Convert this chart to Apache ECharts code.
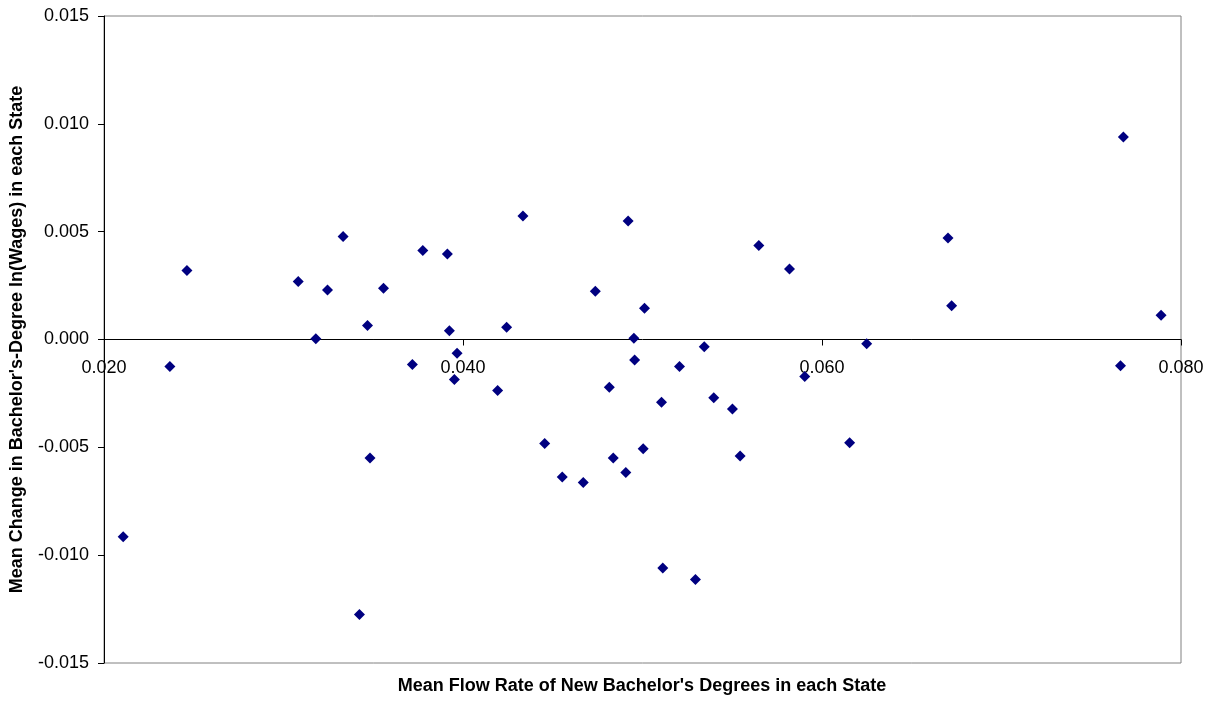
<!DOCTYPE html>
<html>
<head>
<meta charset="utf-8">
<script src="https://cdn.jsdelivr.net/npm/echarts@6/dist/echarts.min.js"></script>
<style>
html,body{margin:0;padding:0;background:#fff;}
#chart{width:1219px;height:709px;}
</style>
</head>
<body>
<div id="chart"></div>
<script>
// Mean flow rate of new bachelor's degrees (x) per state
const flowRate = [
  0.02107, 0.02367, 0.02462, 0.03082, 0.03180, 0.03245, 0.03332, 0.03468, 0.03482, 0.03423,
  0.03557, 0.03718, 0.03776, 0.03913, 0.03924, 0.03967, 0.03952, 0.04193, 0.04243, 0.04334,
  0.04455, 0.04553, 0.04670, 0.04737, 0.04920, 0.04815, 0.04837, 0.04907, 0.04952, 0.04956,
  0.05011, 0.05004, 0.05106, 0.05113, 0.05206, 0.05295, 0.05344, 0.05397, 0.05501, 0.05544,
  0.05648, 0.05819, 0.05904, 0.06154, 0.06249, 0.06702, 0.06722, 0.07679, 0.07663, 0.07889
];
// Mean change in bachelor's-degree ln(wages) (y) per state
const wageChange = [
  -0.00915, -0.00125, 0.00320, 0.00269, 0.00003, 0.00229, 0.00478, 0.00065, -0.00549, -0.01275,
  0.00238, -0.00116, 0.00413, 0.00397, 0.00040, -0.00064, -0.00186, -0.00237, 0.00057, 0.00573,
  -0.00482, -0.00637, -0.00663, 0.00224, 0.00549, -0.00221, -0.00550, -0.00617, 0.00006, -0.00095,
  0.00145, -0.00507, -0.00291, -0.01060, -0.00125, -0.01113, -0.00034, -0.00270, -0.00322, -0.00540,
  0.00436, 0.00327, -0.00172, -0.00479, -0.00020, 0.00471, 0.00156, 0.00939, -0.00122, 0.00113
];
const xTitle = "Mean Flow Rate of New Bachelor's Degrees in each State";
const yTitle = "Mean Change in Bachelor's-Degree ln(Wages) in each State";

const points = flowRate.map((x, i) => [x, wageChange[i]]);

const GRID = { left: 103, right: 38, top: 16, bottom: 46 };
const plotH = 709 - GRID.top - GRID.bottom;

const chart = echarts.init(document.getElementById('chart'));
const FONT = 'Liberation Sans, Arial, sans-serif';
chart.setOption({
  animation: false,
  backgroundColor: '#ffffff',
  grid: Object.assign({
    show: true, borderColor: '#808080', borderWidth: 1, backgroundColor: 'transparent'
  }, GRID),
  xAxis: {
    type: 'value', min: 0.02, max: 0.08, interval: 0.02,
    position: 'bottom',
    offset: -plotH / 2,
    axisLine: { onZero: false, lineStyle: { color: '#000', width: 1 } },
    axisTick: { show: true, inside: false, length: 6, lineStyle: { color: '#000' } },
    axisLabel: {
      margin: 20, color: '#000', fontFamily: FONT, fontSize: 18,
      showMinLabel: true, showMaxLabel: true,
      formatter: v => v.toFixed(3)
    },
    splitLine: { show: false }
  },
  yAxis: {
    type: 'value', min: -0.015, max: 0.015, interval: 0.005,
    axisLine: { show: true, onZero: false, lineStyle: { color: '#000', width: 1 } },
    axisTick: { show: true, inside: false, length: 6, lineStyle: { color: '#000' } },
    axisLabel: {
      margin: 15, color: '#000', fontFamily: FONT, fontSize: 18,
      formatter: v => v.toFixed(3)
    },
    splitLine: { show: false },
    name: yTitle, nameLocation: 'middle', nameRotate: 90, nameGap: 78,
    nameTextStyle: { color: '#000', fontFamily: FONT, fontSize: 18, fontWeight: 'bold' }
  },
  graphic: [{
    type: 'text', x: 642, y: 686,
    style: {
      text: xTitle, fill: '#000', font: 'bold 18px ' + FONT,
      textAlign: 'center', textVerticalAlign: 'middle'
    }
  }],
  series: [{
    type: 'scatter',
    data: points,
    symbol: 'diamond',
    symbolSize: 11,
    itemStyle: { color: '#000080', opacity: 1 }
  }]
});
</script>
</body>
</html>
